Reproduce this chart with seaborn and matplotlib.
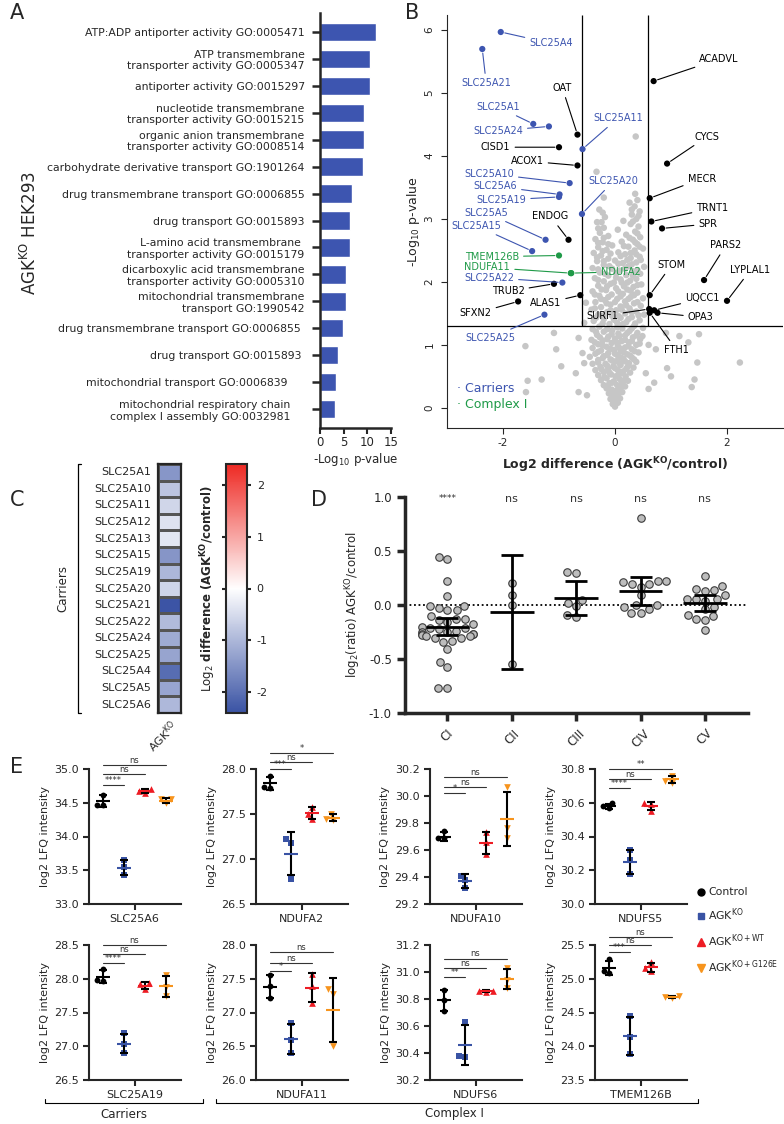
import matplotlib
matplotlib.use("Agg")
import numpy as np
import pandas as pd
import matplotlib.pyplot as plt
import seaborn as sns
from matplotlib.colors import LinearSegmentedColormap
from matplotlib.lines import Line2D

# ----------------------------------------------------------------------
# Data
# ----------------------------------------------------------------------
# A: GO enrichment
go_terms = [
    "ATP:ADP antiporter activity GO:0005471",
    "ATP transmembrane\ntransporter activity GO:0005347",
    "antiporter activity GO:0015297",
    "nucleotide transmembrane\ntransporter activity GO:0015215",
    "organic anion transmembrane\ntransporter activity GO:0008514",
    "carbohydrate derivative transport GO:1901264",
    "drug transmembrane transport GO:0006855",
    "drug transport GO:0015893",
    "L-amino acid transmembrane \ntransporter activity GO:0015179",
    "dicarboxylic acid transmembrane\ntransporter activity GO:0005310",
    "mitochondrial transmembrane\ntransport GO:1990542",
    "drug transmembrane transport GO:0006855 ",
    "drug transport GO:0015893 ",
    "mitochondrial transport GO:0006839     ",
    "mitochondrial respiratory chain    \ncomplex I assembly GO:0032981    ",
]
go_vals = [11.8, 10.5, 10.5, 9.4, 9.2, 9.1, 6.7, 6.4, 6.4, 5.4, 5.4, 4.8, 3.75, 3.3, 3.2]

# B: volcano, labelled proteins
lab_names = ["SLC25A4", "SLC25A21", "SLC25A1", "SLC25A24", "SLC25A11", "SLC25A10",
             "SLC25A6", "SLC25A19", "SLC25A20", "SLC25A5", "SLC25A15", "SLC25A22",
             "SLC25A25", "TMEM126B", "NDUFA11", "NDUFA2", "OAT", "CISD1", "ACOX1",
             "ENDOG", "TRUB2", "ALAS1", "SFXN2", "ACADVL", "CYCS", "MECR", "TRNT1",
             "SPR", "PARS2", "LYPLAL1", "STOM", "UQCC1", "SURF1", "OPA3", "FTH1"]
lab_group = ["car"] * 13 + ["cI"] * 3 + ["oth"] * 19
lab_px = [-2.04, -2.37, -1.46, -1.18, -0.58, -0.81, -0.99, -1.00, -0.59, -1.24, -1.48, -0.94,
          -1.26, -1.00, -0.79, -0.78, -0.67, -1.00, -0.67, -0.83, -1.09, -0.62, -1.73, 0.69,
          0.93, 0.62, 0.65, 0.84, 1.59, 2.00, 0.62, 0.70, 0.61, 0.76, 0.62]
lab_py = [5.97, 5.70, 4.51, 4.47, 4.11, 3.57, 3.39, 3.35, 3.08, 2.67, 2.49, 1.99,
          1.48, 2.42, 2.14, 2.14, 4.34, 4.14, 3.85, 2.67, 1.97, 1.79, 1.69, 5.19,
          3.88, 3.33, 2.96, 2.85, 2.03, 1.70, 1.79, 1.55, 1.57, 1.51, 1.51]
lab_tx = [-1.14, -2.30, -2.09, -2.09, 0.05, -2.25, -2.14, -2.03, -0.03, -2.30, -2.47, -2.25,
          -2.23, -2.20, -2.28, 0.10, -0.94, -2.13, -1.57, -1.15, -1.91, -1.24, -2.49, 1.86,
          1.65, 1.55, 1.74, 1.66, 1.98, 2.42, 1.01, 1.56, -0.22, 1.53, 1.10]
lab_ty = [5.79, 5.16, 4.78, 4.40, 4.60, 3.72, 3.52, 3.30, 3.60, 3.10, 2.89, 2.07,
          1.11, 2.40, 2.23, 2.16, 5.08, 4.14, 3.92, 3.04, 1.85, 1.66, 1.50, 5.54,
          4.31, 3.64, 3.17, 2.92, 2.58, 2.19, 2.27, 1.74, 1.46, 1.44, 0.92]

# B: unlabelled proteins (x = log2 diff, y = -log10 p)
gray_pts = [
    (0.00, 0.02), (-0.04, 0.06), (0.05, 0.08), (0.01, 0.12), (-0.08, 0.14), (0.09, 0.15),
    (-0.02, 0.19), (0.06, 0.22), (-0.11, 0.23), (0.13, 0.25), (0.02, 0.27), (-0.06, 0.29),
    (-0.15, 0.31), (0.10, 0.32), (0.18, 0.34), (-0.20, 0.36), (0.04, 0.36), (-0.10, 0.39),
    (0.14, 0.41), (-0.02, 0.42), (0.23, 0.43), (-0.25, 0.44), (0.08, 0.46), (-0.15, 0.47),
    (0.01, 0.50), (0.19, 0.50), (-0.30, 0.52), (-0.07, 0.53), (0.12, 0.55), (0.27, 0.56),
    (-0.20, 0.57), (-0.35, 0.60), (0.05, 0.60), (-0.12, 0.62), (0.20, 0.62), (0.33, 0.64),
    (-0.26, 0.65), (-0.03, 0.66), (0.10, 0.68), (-0.40, 0.70), (-0.17, 0.70), (0.25, 0.71),
    (0.38, 0.73), (0.02, 0.74), (-0.30, 0.76), (-0.08, 0.77), (0.15, 0.78), (0.30, 0.80),
    (-0.45, 0.81), (-0.20, 0.82), (0.05, 0.83), (0.22, 0.85), (-0.35, 0.86), (-0.12, 0.87),
    (0.42, 0.88), (0.10, 0.90), (-0.25, 0.91), (-0.02, 0.92), (0.30, 0.93), (-0.40, 0.95),
    (0.18, 0.96), (-0.15, 0.97), (0.05, 0.99), (0.38, 1.00), (-0.30, 1.01), (-0.06, 1.03),
    (0.25, 1.04), (0.12, 1.06), (-0.22, 1.07), (-0.42, 1.08), (0.45, 1.09), (0.00, 1.10),
    (0.32, 1.12), (-0.12, 1.13), (0.18, 1.15), (-0.32, 1.16), (0.06, 1.18), (0.40, 1.19),
    (-0.20, 1.21), (0.26, 1.22), (-0.05, 1.23), (-0.40, 1.25), (0.13, 1.26), (0.50, 1.27),
    (-0.28, 1.29), (0.34, 1.30), (-0.10, 1.33), (0.04, 1.35), (0.20, 1.36), (-0.38, 1.38),
    (0.44, 1.39), (-0.20, 1.41), (0.10, 1.43), (0.30, 1.44), (-0.05, 1.46), (-0.30, 1.48),
    (0.52, 1.48), (0.18, 1.50), (-0.14, 1.52), (0.38, 1.53), (0.02, 1.55), (-0.42, 1.56),
    (0.26, 1.58), (-0.25, 1.60), (0.10, 1.61), (0.46, 1.62), (-0.08, 1.64), (0.34, 1.66),
    (-0.35, 1.68), (0.18, 1.69), (-0.18, 1.71), (0.04, 1.73), (0.50, 1.74), (0.28, 1.76),
    (-0.28, 1.78), (-0.06, 1.80), (0.14, 1.81), (0.40, 1.83), (-0.40, 1.85), (-0.16, 1.87),
    (0.22, 1.88), (0.02, 1.90), (0.33, 1.92), (-0.30, 1.94), (0.47, 1.96), (-0.08, 1.97),
    (0.12, 1.99), (-0.20, 2.01), (0.27, 2.02), (0.38, 2.05), (-0.36, 2.06), (0.02, 2.07),
    (-0.12, 2.10), (0.20, 2.11), (0.45, 2.13), (-0.27, 2.15), (0.32, 2.17), (0.08, 2.18),
    (-0.05, 2.21), (-0.40, 2.22), (0.52, 2.24), (0.24, 2.25), (-0.20, 2.27), (0.14, 2.30),
    (0.38, 2.31), (-0.32, 2.33), (0.00, 2.34), (-0.12, 2.37), (0.28, 2.38), (0.44, 2.40),
    (-0.25, 2.42), (0.18, 2.44), (-0.38, 2.46), (0.06, 2.47), (0.35, 2.50), (-0.15, 2.51),
    (0.50, 2.53), (-0.30, 2.55), (0.24, 2.56), (-0.05, 2.58), (0.40, 2.60), (-0.22, 2.63),
    (0.12, 2.64), (0.32, 2.67), (-0.35, 2.68), (0.45, 2.71), (-0.12, 2.73), (0.20, 2.75),
    (-0.27, 2.78), (0.36, 2.80), (0.05, 2.83), (-0.20, 2.86), (0.42, 2.88), (0.28, 2.92),
    (-0.32, 2.95), (0.15, 2.97), (0.38, 3.00), (-0.18, 3.03), (0.30, 3.07), (0.44, 3.12),
    (-0.28, 3.15), (0.35, 3.20), (0.26, 3.26), (0.40, 3.30), (0.36, 3.40), (-0.20, 3.34),
    (0.37, 4.31), (-0.33, 3.75),
    (-1.60, 0.98), (-1.09, 1.19), (-1.05, 0.93), (-0.96, 0.66), (-0.65, 1.11), (-0.58, 0.87),
    (-1.56, 0.43), (-1.31, 0.45), (-1.59, 0.25), (-0.65, 0.25), (-0.55, 0.71), (0.91, 1.19),
    (1.15, 1.14), (1.50, 1.17), (1.31, 1.04), (0.73, 0.93), (1.00, 0.50), (0.93, 0.63),
    (1.47, 0.72), (2.23, 0.72), (1.37, 0.33), (1.42, 0.45), (0.49, 1.14), (-0.52, 1.67),
    (0.70, 0.40), (-0.70, 0.55), (0.60, 0.30), (-0.50, 0.20), (0.55, 0.55), (-0.55, 1.35),
    (0.60, 1.00),
]
# B: more unlabelled proteins in the dense core of the cloud
gray_core = [
    (-0.03, 0.09), (0.03, 0.17), (-0.06, 0.21), (0.08, 0.29), (-0.13, 0.34), (0.12, 0.38),
    (-0.05, 0.40), (0.17, 0.44), (-0.19, 0.49), (0.06, 0.52), (-0.10, 0.56), (0.15, 0.58),
    (-0.24, 0.61), (0.00, 0.63), (0.23, 0.66), (-0.14, 0.67), (0.08, 0.71), (-0.30, 0.72),
    (0.18, 0.74), (-0.05, 0.75), (0.34, 0.77), (-0.22, 0.79), (0.10, 0.80), (-0.14, 0.84),
    (0.27, 0.83), (0.00, 0.86), (-0.30, 0.89), (0.16, 0.88), (0.35, 0.90), (-0.08, 0.94),
    (0.08, 0.95), (0.24, 0.98), (-0.22, 0.99), (0.44, 1.02), (-0.36, 1.04), (0.02, 1.05),
    (0.18, 1.08), (-0.14, 1.09), (0.30, 1.06), (-0.27, 1.12), (0.08, 1.14), (0.38, 1.15),
    (-0.06, 1.17), (0.22, 1.19), (-0.34, 1.21), (-0.14, 1.25), (0.30, 1.26), (0.04, 1.28),
    (-0.22, 1.34), (0.14, 1.33), (0.36, 1.34), (-0.02, 1.40), (0.24, 1.41), (-0.34, 1.43),
    (0.06, 1.46), (0.42, 1.47), (-0.20, 1.47), (0.30, 1.52), (-0.08, 1.55), (0.12, 1.56),
    (-0.36, 1.58), (0.20, 1.63), (-0.15, 1.66), (0.40, 1.68), (0.00, 1.68), (-0.25, 1.73),
    (0.24, 1.73), (0.10, 1.77), (-0.12, 1.76), (0.34, 1.79), (-0.36, 1.80), (0.06, 1.85),
    (0.28, 1.86), (-0.24, 1.88), (0.16, 1.93), (-0.14, 1.93), (0.40, 1.95), (-0.02, 1.99),
    (0.22, 1.99), (-0.30, 2.03), (0.10, 2.04), (0.32, 2.10), (-0.18, 2.13), (0.02, 2.14),
    (0.40, 2.19), (-0.30, 2.20), (0.18, 2.21), (-0.10, 2.25), (0.30, 2.28), (0.06, 2.29),
    (-0.20, 2.33), (0.22, 2.35), (0.46, 2.35), (-0.32, 2.39), (0.10, 2.41), (0.38, 2.44),
    (-0.08, 2.45), (0.28, 2.46), (-0.22, 2.49), (0.44, 2.56), (0.16, 2.57), (-0.12, 2.60),
    (0.36, 2.63), (-0.30, 2.62), (0.26, 2.70), (-0.20, 2.70), (0.40, 2.77), (-0.30, 2.85),
    (0.32, 2.96), (-0.24, 2.95), (0.42, 3.05), (-0.22, 3.10), (0.30, 3.15),
]

# C: carrier heatmap
carrier_names = ["SLC25A1", "SLC25A10", "SLC25A11", "SLC25A12", "SLC25A13", "SLC25A15",
                 "SLC25A19", "SLC25A20", "SLC25A21", "SLC25A22", "SLC25A24", "SLC25A25",
                 "SLC25A4", "SLC25A5", "SLC25A6"]
carrier_vals = [-1.46, -0.81, -0.58, -0.40, -0.35, -1.48, -1.00, -0.59, -2.37, -0.94,
                -1.18, -1.26, -2.04, -1.24, -0.99]

# D: OXPHOS complexes
complexes = ["CI", "CII", "CIII", "CIV", "CV"]
d_CI = [0.44, 0.43, 0.22, 0.08, -0.01, -0.01, -0.03, -0.05, -0.05, -0.10, -0.13, -0.13,
        -0.14, -0.16, -0.18, -0.21, -0.21, -0.20, -0.22, -0.24, -0.25, -0.25, -0.27, -0.27,
        -0.27, -0.28, -0.29, -0.29, -0.31, -0.34, -0.33, -0.31, -0.41, -0.53, -0.57, -0.77, -0.77]
d_CII = [0.20, 0.09, 0.00, -0.55]
d_CIII = [0.02, 0.30, 0.31, -0.11, -0.09, -0.01, 0.05]
d_CIV = [0.81, 0.22, 0.22, 0.19, 0.17, 0.19, 0.21, 0.00, -0.07, -0.04, -0.07, -0.02, 0.00, 0.09]
d_CV = [0.27, 0.14, 0.15, 0.13, 0.18, 0.055, 0.04, 0.09, 0.055, 0.055, -0.09, -0.13,
        -0.14, -0.10, -0.23, -0.02, -0.04]
d_mean = [-0.20, -0.065, 0.067, 0.13, 0.015]
d_err = [0.08, 0.525, 0.155, 0.13, 0.075]
d_sig = ["****", "ns", "ns", "ns", "ns"]

# E: LFQ intensities (control, KO, KO+WT, KO+G126E)
groups = ["Control", "KO", "WT", "G126E"]
genes = ["SLC25A6", "NDUFA2", "NDUFA10", "NDUFS5", "SLC25A19", "NDUFA11", "NDUFS6", "TMEM126B"]
reps = {
    "SLC25A6": [[34.62, 34.47, 34.46], [33.65, 33.55, 33.43], [34.70, 34.64, 34.68], [34.56, 34.49, 34.55]],
    "NDUFA2": [[27.92, 27.79, 27.80], [27.22, 27.18, 26.78], [27.58, 27.50, 27.44], [27.50, 27.44, 27.43]],
    "NDUFA10": [[29.74, 29.69, 29.69], [29.41, 29.38, 29.32], [29.73, 29.66, 29.57], [30.07, 29.76, 29.69]],
    "NDUFS5": [[30.60, 30.58, 30.57], [30.32, 30.26, 30.18], [30.60, 30.59, 30.55], [30.76, 30.73, 30.72]],
    "SLC25A19": [[28.15, 27.97, 27.98], [27.19, 27.03, 26.90], [27.93, 27.92, 27.85], [28.05, 27.88, 27.74]],
    "NDUFA11": [[27.55, 27.39, 27.21], [26.84, 26.60, 26.40], [27.57, 27.40, 27.14], [27.35, 27.28, 26.50]],
    "NDUFS6": [[30.87, 30.79, 30.71], [30.63, 30.38, 30.37], [30.86, 30.86, 30.85], [31.03, 30.94, 30.88]],
    "TMEM126B": [[25.29, 25.08, 25.12], [24.45, 24.13, 23.88], [25.25, 25.16, 25.11], [24.74, 24.73, 24.72]],
}
means = {
    "SLC25A6": [34.52, 33.54, 34.67, 34.53], "NDUFA2": [27.84, 27.06, 27.51, 27.46],
    "NDUFA10": [29.70, 29.37, 29.65, 29.83], "NDUFS5": [30.58, 30.25, 30.58, 30.74],
    "SLC25A19": [28.03, 27.04, 27.90, 27.89], "NDUFA11": [27.38, 26.61, 27.37, 27.04],
    "NDUFS6": [30.79, 30.46, 30.86, 30.95], "TMEM126B": [25.16, 24.15, 25.17, 24.73],
}
sds = {
    "SLC25A6": [0.09, 0.11, 0.03, 0.04], "NDUFA2": [0.07, 0.24, 0.07, 0.04],
    "NDUFA10": [0.03, 0.05, 0.08, 0.20], "NDUFS5": [0.015, 0.07, 0.025, 0.02],
    "SLC25A19": [0.10, 0.145, 0.045, 0.155], "NDUFA11": [0.17, 0.22, 0.215, 0.47],
    "NDUFS6": [0.08, 0.15, 0.01, 0.075], "TMEM126B": [0.11, 0.285, 0.07, 0.01],
}
sig_txt = {
    "SLC25A6": ["****", "ns", "ns"], "NDUFA2": ["***", "ns", "*"],
    "NDUFA10": ["*", "ns", "ns"], "NDUFS5": ["****", "ns", "**"],
    "SLC25A19": ["****", "ns", "ns"], "NDUFA11": ["*", "ns", "ns"],
    "NDUFS6": ["**", "ns", "ns"], "TMEM126B": ["***", "ns", "ns"],
}
sig_y = {
    "SLC25A6": [34.76, 34.92, 35.06], "NDUFA2": [28.00, 28.08, 28.18],
    "NDUFA10": [30.02, 30.07, 30.14], "NDUFS5": [30.69, 30.74, 30.80],
    "SLC25A19": [28.23, 28.37, 28.50], "NDUFA11": [27.62, 27.74, 27.89],
    "NDUFS6": [30.96, 31.03, 31.10], "TMEM126B": [25.40, 25.50, 25.62],
}
yticks_E = {
    "SLC25A6": [33.0, 33.5, 34.0, 34.5, 35.0], "NDUFA2": [26.5, 27.0, 27.5, 28.0],
    "NDUFA10": [29.2, 29.4, 29.6, 29.8, 30.0, 30.2], "NDUFS5": [30.0, 30.2, 30.4, 30.6, 30.8],
    "SLC25A19": [26.5, 27.0, 27.5, 28.0, 28.5], "NDUFA11": [26.0, 26.5, 27.0, 27.5, 28.0],
    "NDUFS6": [30.2, 30.4, 30.6, 30.8, 31.0, 31.2], "TMEM126B": [23.5, 24.0, 24.5, 25.0, 25.5],
}

# ----------------------------------------------------------------------
# Style
# ----------------------------------------------------------------------
sns.set_style("ticks")
plt.rcParams["font.family"] = ["DejaVu Sans"]
plt.rcParams["axes.unicode_minus"] = False

BLUE = "#3d55b0"
GREEN = "#1f9a48"
C_KO = "#3953a4"
C_WT = "#ed1c24"
C_G = "#f7941d"
grp_col = {"Control": "black", "KO": C_KO, "WT": C_WT, "G126E": C_G}
grp_mark = {"Control": "o", "KO": "s", "WT": "^", "G126E": "v"}

W, H = 784, 1124


def rect(l, t, r, b):
    return [l / W, 1 - b / H, (r - l) / W, (b - t) / H]


def fx(x):
    return x / W


def fy(y):
    return 1 - y / H


fig = plt.figure(figsize=(W / 100, H / 100), dpi=100)

# ----------------------------------------------------------------------
# A
# ----------------------------------------------------------------------
axA = fig.add_axes(rect(320, 13, 391, 428))
dfA = pd.DataFrame({"term": go_terms, "val": go_vals})
sns.barplot(data=dfA, x="val", y="term", color=BLUE, saturation=1, width=0.68, ax=axA)
axA.set_xlim(0, 15)
axA.set_ylim(14.7, -0.7)
axA.set_xticks([0, 5, 10, 15])
axA.set_ylabel("")
axA.set_xlabel(r"-Log$_{10}$ p-value", fontsize=8.5, labelpad=1)
sns.despine(ax=axA)
for s in ["left", "bottom"]:
    axA.spines[s].set_linewidth(1.8)
axA.tick_params(axis="y", length=6, width=1.8, pad=5, labelsize=7.8)
axA.tick_params(axis="x", length=4, width=1.5, pad=2, labelsize=8.5)
fig.text(fx(30), fy(233), r"AGK$^{\mathrm{KO}}$ HEK293", rotation=90, fontsize=12,
         ha="center", va="center")

# ----------------------------------------------------------------------
# B
# ----------------------------------------------------------------------
axB = fig.add_axes(rect(447, 15, 783, 428))
dfG = pd.DataFrame(gray_pts + gray_core, columns=["x", "y"])
sns.scatterplot(data=dfG, x="x", y="y", color="#c6c6c6", s=22, edgecolor="none",
                ax=axB, zorder=2)
dfL = pd.DataFrame({"x": lab_px, "y": lab_py, "g": lab_group})
pal = {"car": BLUE, "cI": GREEN, "oth": "black"}
sns.scatterplot(data=dfL, x="x", y="y", hue="g", palette=pal, s=20, edgecolor="none",
                legend=False, ax=axB, zorder=4)
for name, g, px, py, tx, ty in zip(lab_names, lab_group, lab_px, lab_py, lab_tx, lab_ty):
    axB.annotate(name, xy=(px, py), xytext=(tx, ty), color=pal[g], fontsize=7,
                 ha="center", va="center", zorder=5,
                 arrowprops=dict(arrowstyle="-", color=pal[g], lw=0.8,
                                 shrinkA=1, shrinkB=3))
axB.set_xlim(-3, 3)
axB.set_ylim(-0.32, 6.24)
axB.axhline(1.301, color="black", lw=0.9, zorder=3)
axB.vlines([-0.585, 0.585], 1.301, 6.24, color="black", lw=0.9, zorder=3)
axB.set_xticks([-2, 0, 2])
axB.set_yticks(range(7))
for lab in axB.get_yticklabels():
    lab.set_rotation(90)
    lab.set_va("center")
axB.tick_params(axis="both", length=4, width=0.8, labelsize=7.5)
axB.tick_params(axis="y", pad=5)
sns.despine(ax=axB)
axB.set_xlabel(r"Log2 difference (AGK$^{\mathbf{KO}}$/control)", fontsize=9,
               fontweight="bold", labelpad=5)
axB.set_ylabel(r"-Log$_{10}$ p-value", fontsize=9, labelpad=2)
axB.text(-2.83, 0.30, "· Carriers", color=BLUE, fontsize=9, va="center")
axB.text(-2.83, 0.05, "· Complex I", color=GREEN, fontsize=9, va="center")

# ----------------------------------------------------------------------
# C
# ----------------------------------------------------------------------
axC = fig.add_axes(rect(158, 464, 181, 713))
cax = fig.add_axes(rect(226, 464, 247, 713))
cmap = LinearSegmentedColormap.from_list("bwr_gp", ["#3a53a4", "#ffffff", "#ee2a24"])
dfC = pd.DataFrame({r"AGK$^{\mathrm{KO}}$": carrier_vals}, index=carrier_names)
sns.heatmap(dfC, cmap=cmap, vmin=-2.4, vmax=2.4, ax=axC, cbar_ax=cax,
            linewidths=0.8, linecolor="#555555")
for s in axC.spines.values():
    s.set_visible(True)
    s.set_linewidth(1.6)
axC.tick_params(axis="y", length=0, pad=5, labelsize=8)
axC.tick_params(axis="x", length=0, pad=3, labelsize=8)
plt.setp(axC.get_yticklabels(), rotation=0)
plt.setp(axC.get_xticklabels(), rotation=45, ha="right", rotation_mode="anchor")
cbar = axC.collections[0].colorbar
cbar.outline.set_linewidth(1.5)
cbar.set_ticks([-2, -1, 0, 1, 2])
cax.tick_params(axis="y", direction="inout", length=6, width=1.5, left=True, right=True,
                labelleft=False, labelright=True, labelsize=8, pad=4)
cbar.set_label(r"Log$_2$ $\mathbf{difference\ (AGK^{KO}/control)}$", fontsize=8.5)
cax.yaxis.set_label_position("left")
cax.yaxis.labelpad = 3
fig.add_artist(Line2D([fx(81), fx(78), fx(78), fx(81)], [fy(464), fy(464), fy(713), fy(713)],
                      transform=fig.transFigure, color="black", lw=0.9))
fig.text(fx(63), fy(588), "Carriers", rotation=90, fontsize=8.5, ha="center", va="center")

# ----------------------------------------------------------------------
# D
# ----------------------------------------------------------------------
axD = fig.add_axes(rect(405, 497, 748, 713))
d_series = [d_CI, d_CII, d_CIII, d_CIV, d_CV]
dfD = pd.DataFrame({"complex": np.repeat(complexes, [len(v) for v in d_series]),
                    "val": np.concatenate(d_series)})
sns.swarmplot(data=dfD, x="complex", y="val", order=complexes, color="#bdbdbd",
              edgecolor="#3a3a3a", linewidth=0.8, size=5.4, ax=axD, zorder=3)
for i, (m, e) in enumerate(zip(d_mean, d_err)):
    axD.hlines(m, i - 0.34, i + 0.34, color="black", lw=2, zorder=5)
    axD.errorbar(i, m, yerr=e, fmt="none", ecolor="black", elinewidth=2, capsize=8,
                 capthick=2, zorder=5)
    axD.text(i, 0.985, d_sig[i], ha="center", va="center",
             fontsize=6.5 if d_sig[i].startswith("*") else 8, color="#333333")
axD.axhline(0, ls=(0, (1, 1.5)), color="black", lw=1.3, zorder=2)
axD.set_xlim(-0.66, 4.67)
axD.set_ylim(-1, 1)
axD.set_yticks([-1.0, -0.5, 0.0, 0.5, 1.0])
axD.set_yticklabels(["-1.0", "-0.5", "0.0", "0.5", "1.0"])
sns.despine(ax=axD)
for s in ["left", "bottom"]:
    axD.spines[s].set_linewidth(2.5)
axD.tick_params(axis="both", length=6, width=2.5, labelsize=8.5)
axD.tick_params(axis="x", pad=4)
plt.setp(axD.get_xticklabels(), rotation=45, ha="center")
axD.set_xlabel("")
axD.set_ylabel(r"log$_2$(ratio) AGK$^{\mathrm{KO}}$/control", fontsize=8.5, labelpad=4)

# ----------------------------------------------------------------------
# E
# ----------------------------------------------------------------------
col_left = [89, 256, 430, 595]
row_tb = [(769, 904), (945, 1080)]
for k, gene in enumerate(genes):
    r, c = divmod(k, 4)
    t, b = row_tb[r]
    ax = fig.add_axes(rect(col_left[c], t, col_left[c] + 92, b))
    for gi, grp in enumerate(groups):
        sub = pd.DataFrame({"grp": grp, "val": reps[gene][gi]})
        sns.swarmplot(data=sub, x="grp", y="val", order=groups, color=grp_col[grp],
                      marker=grp_mark[grp], size=4.2 if gi < 2 else 4.8, linewidth=0,
                      ax=ax, zorder=3)
    for gi, grp in enumerate(groups):
        m, sd = means[gene][gi], sds[gene][gi]
        ax.errorbar(gi, m, yerr=sd, fmt="none", ecolor="black", elinewidth=1.5,
                    capsize=2.6, capthick=1.5, zorder=4)
        ax.hlines(m, gi - 0.34, gi + 0.34, color=grp_col[grp], lw=1.5, zorder=5)
    for j, (txt, yy) in enumerate(zip(sig_txt[gene], sig_y[gene])):
        ax.plot([0, j + 1], [yy, yy], color="#333333", lw=0.8, clip_on=False)
        ax.text((j + 1) / 2, yy, txt, ha="center", va="bottom", fontsize=6,
                color="#333333", clip_on=False)
    yt = yticks_E[gene]
    ax.set_ylim(yt[0], yt[-1])
    ax.set_yticks(yt)
    ax.set_yticklabels([f"{v:.1f}" for v in yt])
    ax.set_xlim(-0.67, 3.71)
    ax.set_xticks([1.5])
    ax.set_xticklabels([gene])
    ax.set_xlabel("")
    ax.set_ylabel("log2 LFQ intensity", fontsize=8, labelpad=3)
    sns.despine(ax=ax)
    for s in ["left", "bottom"]:
        ax.spines[s].set_linewidth(1.5)
    ax.tick_params(axis="both", length=4, width=1.5, labelsize=8)

handles = [Line2D([], [], ls="none", marker=grp_mark[g], color=grp_col[g],
                  markersize=5 if i < 2 else 5.5) for i, g in enumerate(groups)]
labels = ["Control", r"AGK$^{\mathrm{KO}}$", r"AGK$^{\mathrm{KO+WT}}$", r"AGK$^{\mathrm{KO+G126E}}$"]
fig.legend(handles, labels, loc="upper left", bbox_to_anchor=(fx(690), fy(882)),
           frameon=False, fontsize=7.8, handletextpad=0.2, labelspacing=0.85,
           handlelength=1, borderpad=0)

# group brackets
for x1, x2, txt, tx in [(45, 203, "Carriers", 124), (216, 698, "Complex I", 454)]:
    fig.add_artist(Line2D([fx(x1), fx(x1), fx(x2), fx(x2)],
                          [fy(1099), fy(1103), fy(1103), fy(1099)],
                          transform=fig.transFigure, color="black", lw=0.8))
    fig.text(fx(tx), fy(1114), txt, fontsize=8.5, ha="center", va="center")

# panel letters
for letter, x, y in [("A", 10, 13), ("B", 405, 13), ("C", 10, 500), ("D", 311, 500),
                     ("E", 10, 767)]:
    fig.text(fx(x), fy(y), letter, fontsize=15, ha="left", va="center")

fig.savefig("out.png", dpi=100)
